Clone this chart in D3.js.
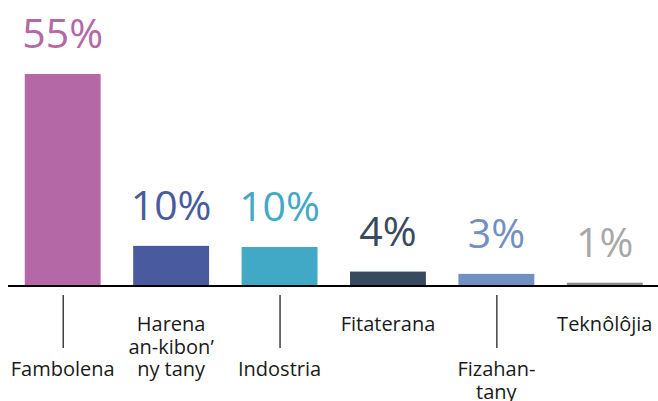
<!DOCTYPE html>
<html>
<head>
<meta charset="utf-8">
<script src="https://cdn.jsdelivr.net/npm/d3@7"></script>
<style>
  html, body { margin: 0; padding: 0; background: #fff; }
  svg { display: block; font-family: "Open Sans", "Noto Sans", sans-serif; }
</style>
</head>
<body>
<svg width="658" height="401"></svg>
<script>
var categories = ["Fambolena", "Harena\nan-kibon’\nny tany", "Indostria", "Fitaterana", "Fizahan-\ntany", "Teknôlôjia"];
var values = [55, 10.2, 9.9, 3.5, 2.9, 0.6];
var valueLabels = ["55%", "10%", "10%", "4%", "3%", "1%"];
var colors = ["#b468a5", "#4a5a9e", "#41a8c6", "#384a60", "#7290c2", "#8c8c8c"];
var labelColors = ["#b468a5", "#4a5a9e", "#41a8c6", "#384a60", "#7290c2", "#a8a8a8"];

var svg = d3.select("svg"),
    width = +svg.attr("width"),
    height = +svg.attr("height"),
    baseline = 285;

var x = d3.scaleBand().domain(categories).range([8.5, 659]).paddingInner(0.3).paddingOuter(0.15),
    y = d3.scaleLinear().domain([0, d3.max(values)]).range([baseline, 74]);

var data = categories.map(function(c, i) {
  return {cat: c, value: values[i], label: valueLabels[i], color: colors[i], labelColor: labelColors[i], i: i};
});

svg.selectAll(".bar")
  .data(data)
  .enter().append("rect")
    .attr("class", "bar")
    .attr("x", function(d) { return x(d.cat); })
    .attr("y", function(d) { return y(d.value); })
    .attr("width", x.bandwidth())
    .attr("height", function(d) { return baseline - y(d.value); })
    .attr("fill", function(d) { return d.color; });

svg.selectAll(".val")
  .data(data)
  .enter().append("text")
    .attr("class", "val")
    .attr("x", function(d) { return x(d.cat) + x.bandwidth() / 2; })
    .attr("y", function(d) { return y(d.value) - 26; })
    .attr("text-anchor", "middle")
    .attr("font-size", 41)
    .attr("fill", function(d) { return d.labelColor; })
    .text(function(d) { return d.label; });

// axis line
svg.append("line")
  .attr("x1", 8).attr("x2", width)
  .attr("y1", baseline + 1).attr("y2", baseline + 1)
  .attr("stroke", "#000")
  .attr("stroke-width", 2);

// staggered category labels, every other one pushed down with a leader tick
var cats = svg.selectAll(".cat")
  .data(data)
  .enter().append("g")
    .attr("class", "cat")
    .attr("transform", function(d) { return "translate(" + (x(d.cat) + x.bandwidth() / 2) + ",0)"; });

cats.filter(function(d) { return d.i % 2 === 0; })
  .append("line")
    .attr("x1", 0.5).attr("x2", 0.5)
    .attr("y1", 295).attr("y2", 348)
    .attr("stroke", "#111")
    .attr("stroke-width", 1.2);

cats.append("text")
    .attr("text-anchor", "middle")
    .attr("font-size", 20)
    .attr("fill", "#1a1a1a")
    .each(function(d) {
      var t = d3.select(this),
          y0 = d.i % 2 === 0 ? 376 : 331;
      d.cat.split("\n").forEach(function(line, k) {
        t.append("tspan").attr("x", 0).attr("y", y0 + k * 22.5).text(line);
      });
    });
</script>
</body>
</html>
